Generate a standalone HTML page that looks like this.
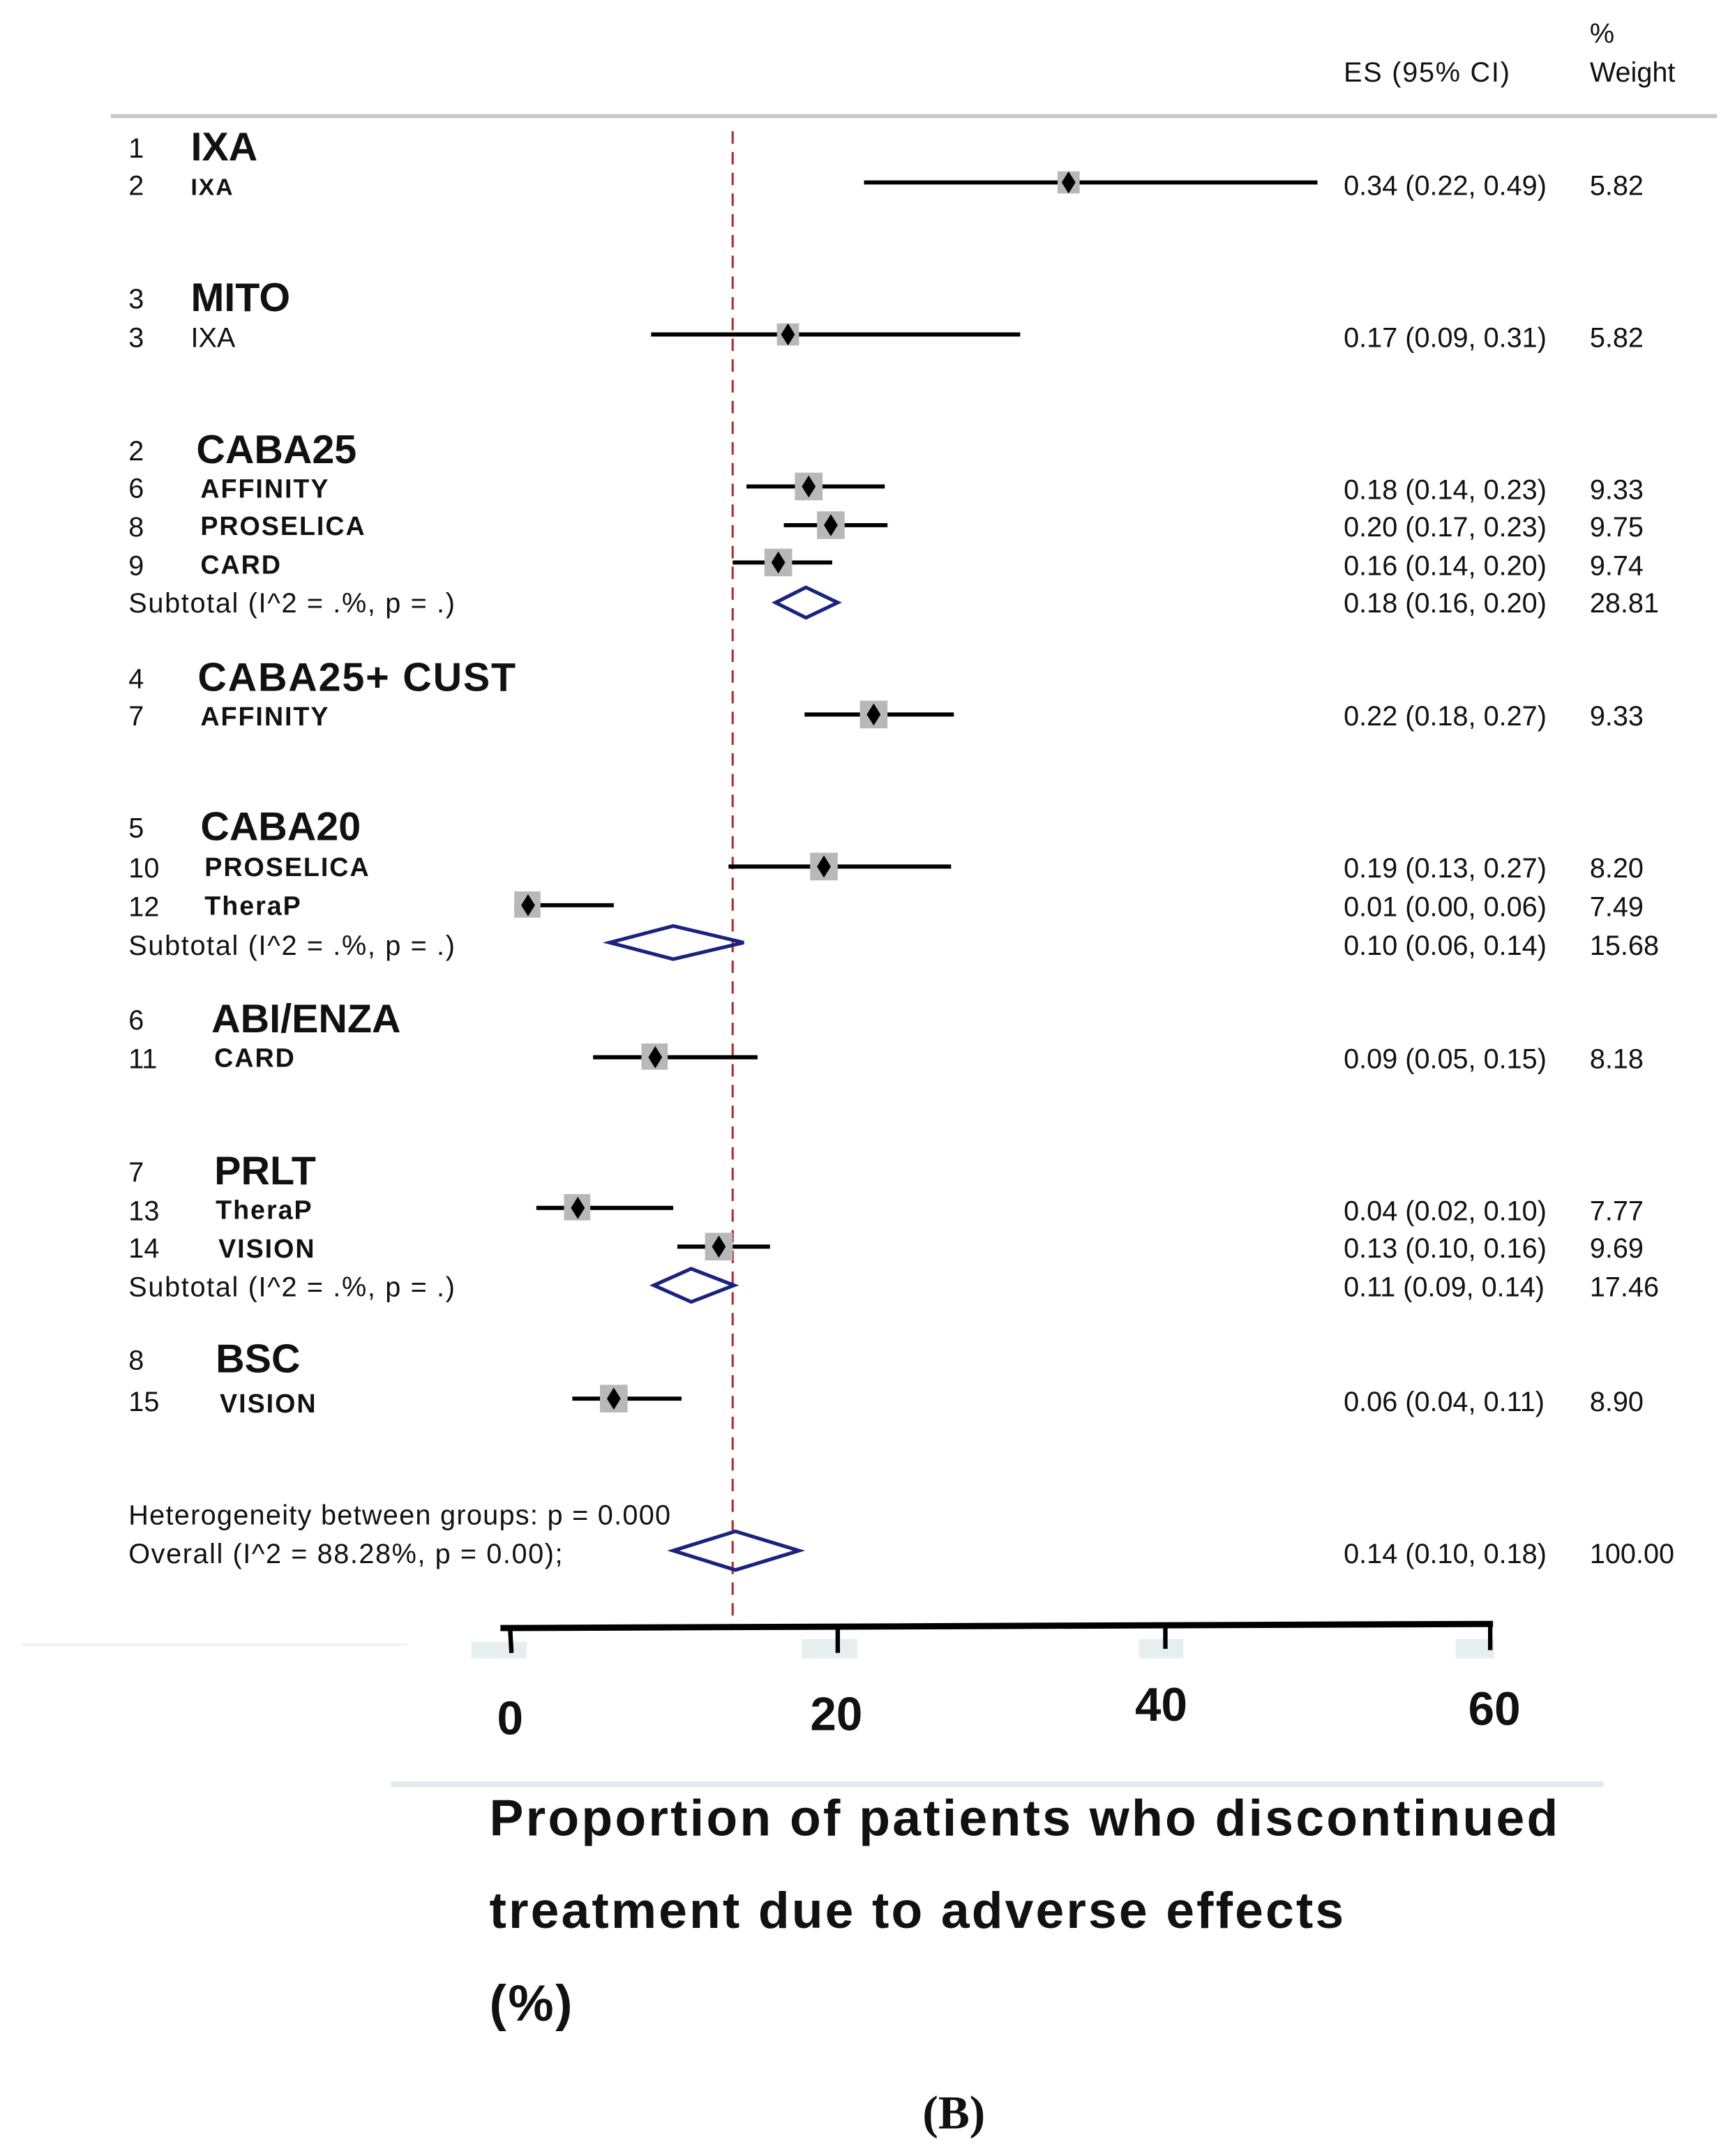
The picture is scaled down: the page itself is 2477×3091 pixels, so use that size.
<!DOCTYPE html>
<html><head><meta charset="utf-8"><style>
html,body{margin:0;padding:0;background:#fff;}
svg{display:block;}
text{font-family:"Liberation Sans",Arial,sans-serif;fill:#111;}
.n{font-size:20px;font-weight:normal;}
.h{font-size:29px;font-weight:bold;}
.s{font-size:19px;font-weight:bold;letter-spacing:1px;}
.v{font-size:20px;}
</style></head><body>
<svg width="2477" height="3091" viewBox="0 0 1250 1560" preserveAspectRatio="none" xmlns="http://www.w3.org/2000/svg">
<rect width="1250" height="1560" fill="#fff"/>
<text class="v" x="1150" y="31">%</text>
<text class="v" x="972" y="59" textLength="120">ES (95% CI)</text>
<text class="v" x="1150" y="59">Weight</text>
<line x1="80" y1="84" x2="1242" y2="84" stroke="#c8c8c8" stroke-width="3"/>
<line x1="530" y1="95" x2="530" y2="1178" stroke="#b03030" stroke-width="1.6" stroke-dasharray="9,6"/>

<!-- headings -->
<text class="n" x="93" y="114">1</text><text class="h" x="138" y="116">IXA</text>
<text class="n" x="93" y="223">3</text><text class="h" x="138" y="225">MITO</text>
<text class="n" x="93" y="333">2</text><text class="h" x="142" y="335">CABA25</text>
<text class="n" x="93" y="498">4</text><text class="h" x="143" y="500" textLength="230">CABA25+ CUST</text>
<text class="n" x="93" y="606">5</text><text class="h" x="145" y="608">CABA20</text>
<text class="n" x="93" y="745">6</text><text class="h" x="153" y="747">ABI/ENZA</text>
<text class="n" x="93" y="855">7</text><text class="h" x="155" y="857">PRLT</text>
<text class="n" x="93" y="991">8</text><text class="h" x="156" y="993">BSC</text>

<!-- study rows -->
<text class="n" x="93" y="141">2</text><text class="s" x="138" y="141" style="font-size:17px">IXA</text>
<text class="n" x="93" y="251">3</text><text class="n" x="138" y="251">IXA</text>
<text class="n" x="93" y="360">6</text><text class="s" x="145" y="360">AFFINITY</text>
<text class="n" x="93" y="388">8</text><text class="s" x="145" y="387">PROSELICA</text>
<text class="n" x="93" y="416">9</text><text class="s" x="145" y="415">CARD</text>
<text class="n" x="93" y="443" textLength="236">Subtotal  (I^2 = .%, p = .)</text>
<text class="n" x="93" y="525">7</text><text class="s" x="145" y="525">AFFINITY</text>
<text class="n" x="93" y="635">10</text><text class="s" x="148" y="634">PROSELICA</text>
<text class="n" x="93" y="663">12</text><text class="s" x="148" y="662">TheraP</text>
<text class="n" x="93" y="691" textLength="236">Subtotal  (I^2 = .%, p = .)</text>
<text class="n" x="93" y="773">11</text><text class="s" x="155" y="772">CARD</text>
<text class="n" x="93" y="883">13</text><text class="s" x="156" y="882">TheraP</text>
<text class="n" x="93" y="910">14</text><text class="s" x="158" y="910">VISION</text>
<text class="n" x="93" y="938" textLength="236">Subtotal  (I^2 = .%, p = .)</text>
<text class="n" x="93" y="1021">15</text><text class="s" x="159" y="1022">VISION</text>
<text class="n" x="93" y="1103" textLength="392">Heterogeneity between groups: p = 0.000</text>
<text class="n" x="93" y="1131" textLength="314">Overall  (I^2 = 88.28%, p = 0.00);</text>

<!-- values -->
<g class="v">
<text x="972" y="141">0.34 (0.22, 0.49)</text><text x="1150" y="141">5.82</text>
<text x="972" y="251">0.17 (0.09, 0.31)</text><text x="1150" y="251">5.82</text>
<text x="972" y="361">0.18 (0.14, 0.23)</text><text x="1150" y="361">9.33</text>
<text x="972" y="388">0.20 (0.17, 0.23)</text><text x="1150" y="388">9.75</text>
<text x="972" y="416">0.16 (0.14, 0.20)</text><text x="1150" y="416">9.74</text>
<text x="972" y="443">0.18 (0.16, 0.20)</text><text x="1150" y="443">28.81</text>
<text x="972" y="525">0.22 (0.18, 0.27)</text><text x="1150" y="525">9.33</text>
<text x="972" y="635">0.19 (0.13, 0.27)</text><text x="1150" y="635">8.20</text>
<text x="972" y="663">0.01 (0.00, 0.06)</text><text x="1150" y="663">7.49</text>
<text x="972" y="691">0.10 (0.06, 0.14)</text><text x="1150" y="691">15.68</text>
<text x="972" y="773">0.09 (0.05, 0.15)</text><text x="1150" y="773">8.18</text>
<text x="972" y="883">0.04 (0.02, 0.10)</text><text x="1150" y="883">7.77</text>
<text x="972" y="910">0.13 (0.10, 0.16)</text><text x="1150" y="910">9.69</text>
<text x="972" y="938">0.11 (0.09, 0.14)</text><text x="1150" y="938">17.46</text>
<text x="972" y="1021">0.06 (0.04, 0.11)</text><text x="1150" y="1021">8.90</text>
<text x="972" y="1131">0.14 (0.10, 0.18)</text><text x="1150" y="1131">100.00</text>
</g>

<!-- CIs -->
<g stroke="#000" stroke-width="3">
<line x1="625" y1="132" x2="953" y2="132"/>
<line x1="471" y1="242" x2="738" y2="242"/>
<line x1="540" y1="352" x2="640" y2="352"/>
<line x1="567" y1="380" x2="642" y2="380"/>
<line x1="530" y1="407" x2="602" y2="407"/>
<line x1="582" y1="517" x2="690" y2="517"/>
<line x1="527" y1="627" x2="688" y2="627"/>
<line x1="372" y1="655" x2="444" y2="655"/>
<line x1="429" y1="765" x2="548" y2="765"/>
<line x1="388" y1="874" x2="487" y2="874"/>
<line x1="490" y1="902" x2="557" y2="902"/>
<line x1="414" y1="1012" x2="493" y2="1012"/>
</g>
<g fill="#b8b8b8">
<rect x="765" y="124" width="16" height="16"/>
<rect x="562" y="234" width="16" height="16"/>
<rect x="575" y="342" width="20" height="20"/>
<rect x="591" y="370" width="20" height="20"/>
<rect x="553" y="397" width="20" height="20"/>
<rect x="622" y="507" width="20" height="20"/>
<rect x="586" y="617" width="20" height="20"/>
<rect x="372" y="645" width="19" height="19"/>
<rect x="464" y="755" width="19" height="19"/>
<rect x="408" y="864" width="19" height="19"/>
<rect x="510" y="892" width="20" height="20"/>
<rect x="434" y="1002" width="20" height="20"/>
</g>
<g fill="#000">
<path d="M773 124l5 8-5 8-5-8z"/>
<path d="M570 234l5 8-5 8-5-8z"/>
<path d="M585 344l5 8-5 8-5-8z"/>
<path d="M601 372l5 8-5 8-5-8z"/>
<path d="M563 399l5 8-5 8-5-8z"/>
<path d="M632 509l5 8-5 8-5-8z"/>
<path d="M596 619l5 8-5 8-5-8z"/>
<path d="M382 647l5 8-5 8-5-8z"/>
<path d="M474 757l5 8-5 8-5-8z"/>
<path d="M418 866l5 8-5 8-5-8z"/>
<path d="M520 894l5 8-5 8-5-8z"/>
<path d="M444 1004l5 8-5 8-5-8z"/>
</g>
<g fill="none" stroke="#1a237e" stroke-width="2.6">
<path d="M561 436L583 425L606 436L583 447z"/>
<path d="M441 682L487 670L538 682L487 694z"/>
<path d="M473 930L500 918L531 930L500 942z"/>
<path d="M487 1122L532 1108L578 1122L532 1136z"/>
</g>

<!-- axis -->
<line x1="15" y1="1190" x2="295" y2="1190" stroke="#eef0f0" stroke-width="1.5"/>
<g fill="#e6eef0">
<rect x="341" y="1188" width="40" height="12"/>
<rect x="580" y="1186" width="40" height="14"/>
<rect x="824" y="1186" width="32" height="14"/>
<rect x="1053" y="1186" width="28" height="14"/>
</g>
<path d="M362 1178L1080 1175" stroke="#000" stroke-width="4.5" fill="none"/>
<g stroke="#000" stroke-width="3.2">
<line x1="369" y1="1178" x2="370" y2="1196"/>
<line x1="606" y1="1177" x2="606" y2="1196"/>
<line x1="843" y1="1176" x2="843" y2="1193"/>
<line x1="1078" y1="1175" x2="1078" y2="1194"/>
</g>
<g style="font-size:34px;font-weight:bold" text-anchor="middle">
<text x="369" y="1255">0</text>
<text x="605" y="1252">20</text>
<text x="840" y="1245">40</text>
<text x="1081" y="1248">60</text>
</g>
<line x1="283" y1="1291" x2="1160" y2="1291" stroke="#e2eaec" stroke-width="4"/>
<g style="font-size:37px;font-weight:bold">
<text x="354" y="1328" textLength="773">Proportion of patients who discontinued</text>
<text x="354" y="1395" textLength="618">treatment due to adverse effects</text>
<text x="354" y="1462" textLength="60">(%)</text>
</g>
<text x="690" y="1540" text-anchor="middle" style="font-family:'Liberation Serif',serif;font-size:34px;font-weight:bold">(B)</text>
</svg>
</body></html>
